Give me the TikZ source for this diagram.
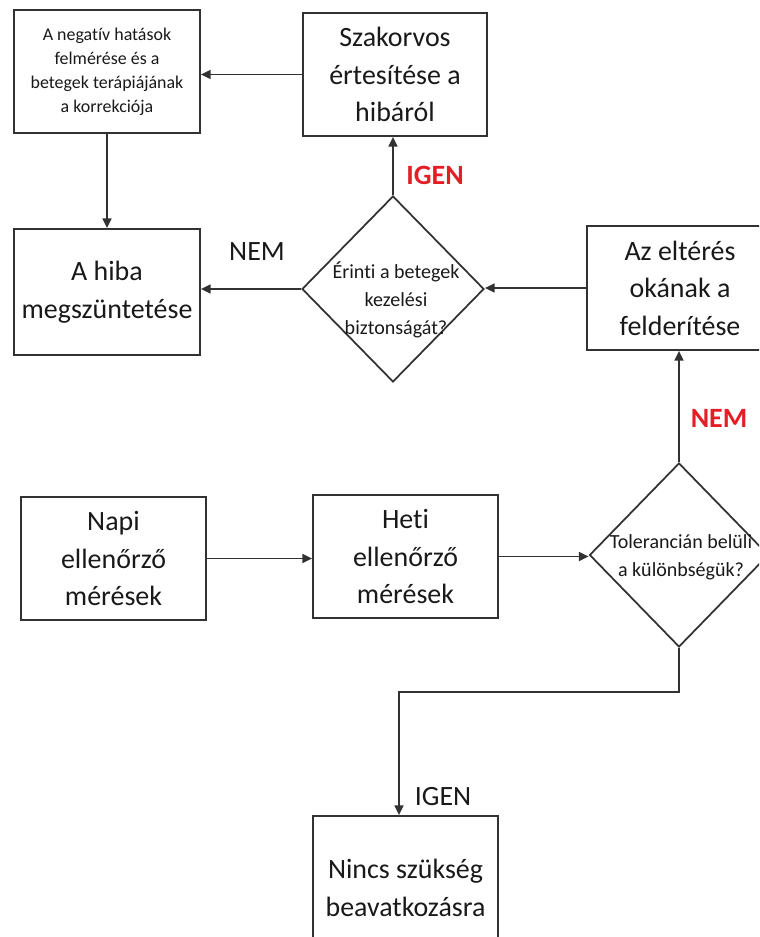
\documentclass[tikz,border=0pt]{standalone}
\usepackage{fontspec}
\setmainfont[Ligatures={NoCommon,NoRare,NoContextual}]{Carlito}
\usepackage{xcolor}
\usetikzlibrary{shapes.geometric, positioning, arrows.meta}
\definecolor{FlowRed}{RGB}{228,30,38}
\definecolor{FlowLine}{RGB}{50,50,50}

\begin{document}
\begin{tikzpicture}[
    box/.style={rectangle, draw=FlowLine, line width=1pt,
                minimum width=3.72cm, minimum height=2.46cm, align=center,
                text=black!90, font=\fontsize{15.9}{21.3}\selectfont},
    smallbox/.style={box, font=\fontsize{10.2}{13.7}\selectfont},
    decision/.style={diamond, draw=FlowLine, line width=1pt, inner sep=0pt,
                     minimum width=3.64cm, minimum height=3.72cm},
    dtext/.style={align=center, text=black!90,
                  font=\fontsize{11.4}{15.9}\selectfont},
    answer/.style={font=\fontsize{15.9}{19}\selectfont, text=black!90},
    redanswer/.style={font=\fontsize{15.9}{19}\selectfont\bfseries, FlowRed},
    arr/.style={-{Triangle[length=5.5pt, width=5pt]}, line width=1pt, FlowLine}
  ]
  \clip (0,0) rectangle (15.18,18.74);

  % Upper part
  \node[smallbox] (neg) at (2.14,17.31)
        {A negatív hatások\\felmérése és a\\betegek terápiájának\\a korrekciója};
  \node[box, minimum width=3.68cm] (szak) at (7.90,17.25)
        {Szakorvos\\értesítése a\\hibáról};
  \node[box, minimum height=2.52cm] (hiba) at (2.14,12.90)
        {A hiba\\megszüntetése};
  \node[decision] (d1) at (7.86,12.96) {};
  \node[dtext] (d1txt) at (7.92,12.74)
        {Érinti a betegek\\kezelési\\biztonságát?};
  \node[box, minimum height=2.48cm] (elt) at (13.60,12.98)
        {Az eltérés\\okának a\\felderítése};

  % Measurements
  \node[box, minimum width=3.70cm] (napi) at (2.27,7.57)
        {Napi\\ellenőrző\\mérések};
  \node[box, minimum width=3.70cm] (heti) at (8.11,7.61)
        {Heti\\ellenőrző\\mérések};
  \node[decision, minimum width=3.58cm, minimum height=3.68cm] (d2) at (13.58,7.64) {};
  \node[dtext] (d2txt) at (13.62,7.60)
        {Tolerancián belüli\\a különbségük?};
  \node[box, minimum width=3.70cm, minimum height=2.88cm] (nincs) at (8.11,0.98)
        {Nincs szükség\\beavatkozásra};

  % Answers
  \node[answer]    (nem1)  at (5.14,13.70) {NEM};
  \node[redanswer] (igen1) at (8.70,15.24) {IGEN};
  \node[redanswer] (nem2)  at (14.38,10.38) {NEM};
  \node[answer]    (igen2) at (8.86,2.80) {IGEN};

  % Arrows
  \draw[arr] (szak.west) -- (neg.east |- szak.west);
  \draw[arr] (neg.south) -- (hiba.north);
  \draw[arr] (d1.north)  -- (szak.south -| d1.north);
  \draw[arr] (d1.west)   -- (hiba.east |- d1.west);
  \draw[arr] (elt.west)  -- (d1.east |- elt.west);
  \draw[arr] (d2.north)  -- (elt.south -| d2.north);
  \draw[arr] (napi.east) -- (heti.west |- napi.east);
  \draw[arr] (heti.east) -- (d2.west |- heti.east);

  % Way down
  \coordinate (bend) at (7.98,4.90);
  \draw[arr] (d2.south) |- (bend) -- (bend |- nincs.north);
\end{tikzpicture}
\end{document}
